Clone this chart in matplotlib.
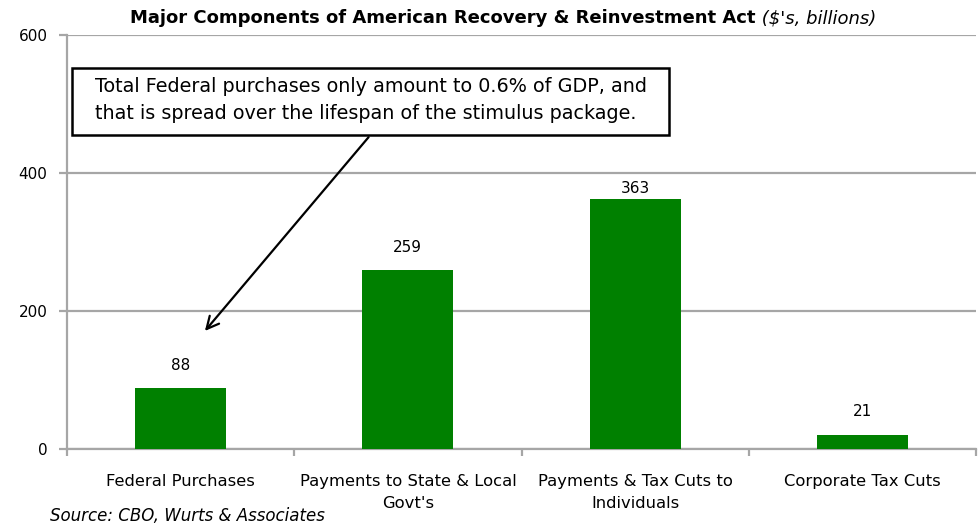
import matplotlib
matplotlib.use("Agg")
import matplotlib.pyplot as plt
from matplotlib.patches import Rectangle

categories = ["Federal Purchases", "Payments to State & Local\nGovt's",
              "Payments & Tax Cuts to\nIndividuals", "Corporate Tax Cuts"]
values = [88, 259, 363, 21]
yticks = [0, 200, 400, 600]

plt.rcParams['font.family'] = ['DejaVu Sans']
fig = plt.figure(figsize=(9.79, 5.29), dpi=100)
ax = fig.add_axes([67/979, 80/529, 909/979, 414/529])

green = "#008000"
grid_c = "#a6a6a6"
x = list(range(len(categories)))
ax.bar(x, values, width=0.4, color=green, zorder=3)
ax.set_xlim(-0.5, len(categories) - 0.5)
ax.set_ylim(0, 600)
ax.set_yticks(yticks)
ax.set_yticklabels([str(v) for v in yticks], fontsize=11)
ax.yaxis.grid(True, color=grid_c, lw=1.6, zorder=0)
for s in ["top", "right"]:
    ax.spines[s].set_visible(False)
for s in ["left", "bottom"]:
    ax.spines[s].set_color(grid_c)
    ax.spines[s].set_linewidth(1.6)
ax.tick_params(axis='y', length=6, width=1.6, color=grid_c, pad=8)
ax.set_xticks(x)
ax.set_xticklabels(categories, fontsize=11.8, linespacing=1.6)
ax.tick_params(axis='x', length=0, pad=18)
ax.set_xticks([i - 0.5 for i in range(len(categories) + 1)], minor=True)
ax.tick_params(axis='x', which='minor', length=5, width=1.6, color=grid_c)

offsets = [11, 11, 1.5, 11]
for xi, v, off in zip(x, values, offsets):
    ax.annotate(str(v), (xi, v), xytext=(0, off), textcoords='offset points',
                ha='center', va='bottom', fontsize=11)

# Title: bold part + italic part
t1 = fig.text(0.5, 1 - 18/529, "Major Components of American Recovery & Reinvestment Act",
              ha='left', va='center', fontsize=13, fontweight='bold')
t2 = fig.text(0.5, 1 - 18/529, " ($'s, billions)", ha='left', va='center',
              fontsize=13, fontstyle='italic')
fig.canvas.draw()
r = fig.canvas.get_renderer()
w1 = t1.get_window_extent(r).width
w2 = t2.get_window_extent(r).width
start = 503 - (w1 + w2) / 2
t1.set_x(start / 979)
t2.set_x((start + w1) / 979)

# annotation box
ax.add_patch(Rectangle((0.0055, 0.758), 0.657, 0.162, transform=ax.transAxes,
                       facecolor='white', edgecolor='black', lw=1.8, zorder=5))
ax.text(0.0308, 0.843, "Total Federal purchases only amount to 0.6% of GDP, and\n"
        "that is spread over the lifespan of the stimulus package.",
        transform=ax.transAxes, ha='left', va='center', fontsize=13.8,
        linespacing=1.5, zorder=6)
ax.annotate("", xy=(0.099, 168), xytext=(0.835, 455),
            arrowprops=dict(arrowstyle='->', color='black', lw=1.6,
                            mutation_scale=22), zorder=6)

fig.text(50/979, 1 - 516/529, "Source: CBO, Wurts & Associates", ha='left',
         va='center', fontsize=12, fontstyle='italic')

fig.savefig("out.png", dpi=100)
